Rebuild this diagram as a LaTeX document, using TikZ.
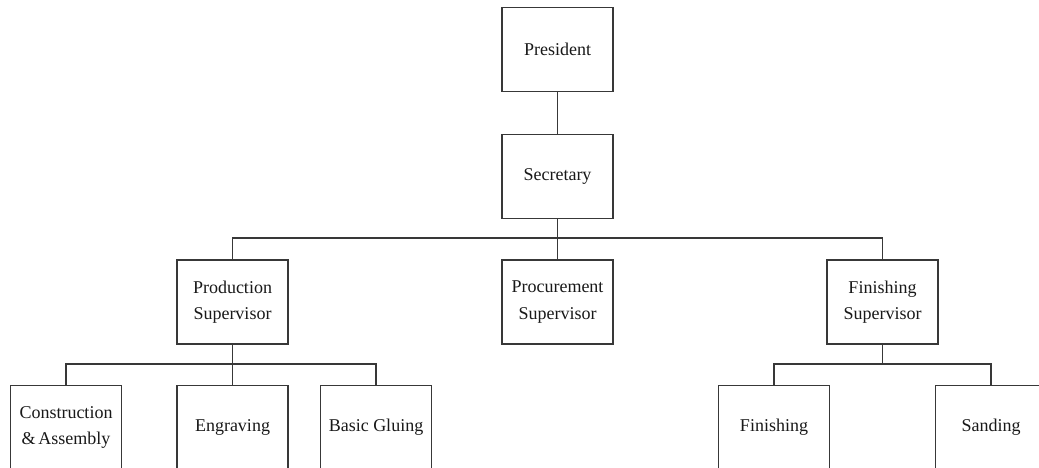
\documentclass[tikz,border=0pt]{standalone}
\usepackage{fontspec}
\setmainfont{Liberation Serif}
\begin{document}
\begin{tikzpicture}[x=1pt,y=-1pt,
  unit/.style={draw=black!78, line width=1.7pt, fill=white, minimum width=111pt,
    minimum height=84pt, inner sep=0pt, align=center, text=black!90,
    font=\fontsize{18}{26.5}\selectfont},
  link/.style={draw=black!78, line width=1.7pt}]
\useasboundingbox (0,0) rectangle (1039,467);
\begin{scope}
\clip (0,0) rectangle (1039,467);
% top of the chart
\node[unit] (pres) at (557.5,49.5) {President};
\node[unit] (sec)  at (557.5,176.5) {Secretary};
% supervisors
\node[unit] (prod) at (232.5,302) {Production\\Supervisor};
\node[unit] (proc) at (557.5,302) {Procurement\\Supervisor};
\node[unit] (fsup) at (882.5,302) {Finishing\\Supervisor};
% work units
\node[unit] (cons) at (66,427.5)  {Construction\\\&\,Assembly};
\node[unit] (engr) at (232.5,427.5) {Engraving};
\node[unit] (glue) at (376,427.5) {Basic Gluing};
\node[unit] (fin)  at (774,427.5) {Finishing};
\node[unit] (sand) at (991,427.5) {Sanding};
% bus levels
\coordinate (bus1) at (0,238);
\coordinate (bus2) at (0,364);
% connectors
\draw[link] (pres.south) -- (sec.north);
\draw[link] (sec.south) -- (proc.north);
\draw[link] (sec.south |- bus1) -| (prod.north);
\draw[link] (sec.south |- bus1) -| (fsup.north);
\draw[link] (prod.south) -- (engr.north);
\draw[link] (prod.south |- bus2) -| (cons.north);
\draw[link] (prod.south |- bus2) -| (glue.north);
\draw[link] (fsup.south) -- (fsup.south |- bus2);
\draw[link] (fsup.south |- bus2) -| (fin.north);
\draw[link] (fsup.south |- bus2) -| (sand.north);
\end{scope}
\end{tikzpicture}
\end{document}
